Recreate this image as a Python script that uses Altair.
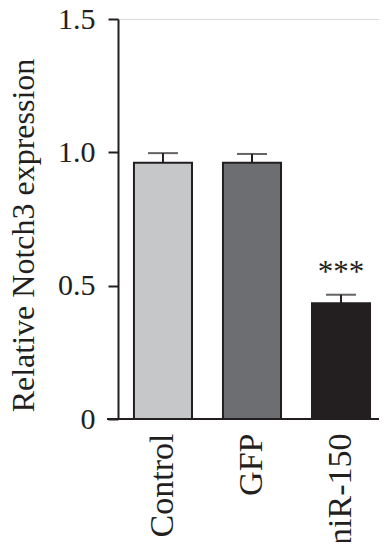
import altair as alt
import pandas as pd

groups = ["Control", "GFP", "miR-150"]
means = [0.961, 0.961, 0.434]
errors = [0.036, 0.033, 0.032]
marks = ["", "", "***"]
bar_colors = ["#c6c7c9", "#6d6e72", "#231f20"]
y_ticks = [0, 0.5, 1.0, 1.5]
y_tick_labels = ["0", "0.5", "1.0", "1.5"]

df = pd.DataFrame({
    "group": groups,
    "mean": means,
    "upper": [m + e for m, e in zip(means, errors)],
    "mark": marks,
    "star_y": [m + e + 0.08 for m, e in zip(means, errors)],
})

W, H = 261, 400
INK = "#231f20"
FONT = "Liberation Serif"

label_expr = " : ".join(
    f"datum.value == {v} ? '{l}'" for v, l in zip(y_ticks, y_tick_labels)
) + " : ''"

xscale = alt.Scale(domain=groups, paddingInner=0.348, paddingOuter=0.14, align=0.64)
yscale = alt.Scale(domain=[0, 1.5], nice=False, zero=True)

x_enc = alt.X("group:N", scale=xscale, sort=groups,
              axis=alt.Axis(title=None, labelAngle=-90, labelAlign="right",
                            labelBaseline="middle", labelFont=FONT, labelFontSize=34,
                            labelColor=INK, labelPadding=14, ticks=False,
                            domain=False))
y_enc = alt.Y("mean:Q", scale=yscale,
              axis=alt.Axis(title="Relative Notch3 expression", values=y_ticks,
                            labelExpr=label_expr, labelFont=FONT, labelFontSize=30,
                            labelColor=INK, labelPadding=13, tickSize=10,
                            tickWidth=2, tickColor=INK, domainColor=INK,
                            domainWidth=2, grid=False, titleFont=FONT,
                            titleFontSize=32, titleFontWeight="normal",
                            titleColor=INK, titleX=-85, titleY=216,
                            titleBaseline="alphabetic"))

base = alt.Chart(df)

bars = base.mark_bar(stroke=INK, strokeWidth=2).encode(
    x=x_enc,
    y=y_enc,
    color=alt.Color("group:N", scale=alt.Scale(domain=groups, range=bar_colors), legend=None),
)

err_rule = base.mark_rule(color=INK, strokeWidth=2).encode(
    x=alt.X("group:N", scale=xscale, sort=groups),
    y=alt.Y("mean:Q", scale=yscale),
    y2="upper:Q",
)

err_cap = base.mark_tick(color=INK, thickness=2, size=30, orient="horizontal").encode(
    x=alt.X("group:N", scale=xscale, sort=groups),
    y=alt.Y("upper:Q", scale=yscale),
)

stars = base.mark_text(font=FONT, fontSize=31, color=INK, baseline="middle").encode(
    x=alt.X("group:N", scale=xscale, sort=groups),
    y=alt.Y("star_y:Q", scale=yscale),
    text="mark:N",
)

xline = base.mark_rule(color=INK, strokeWidth=2).encode(
    x=alt.value(-11), x2=alt.value(W), y=alt.value(H)
).transform_filter("datum.group == 'Control'")

chart = alt.layer(bars, err_rule, err_cap, stars, xline).properties(
    width=W, height=H,
    padding={"left": 110, "top": 11, "right": 0, "bottom": 123},
    autosize=alt.AutoSizeParams(type="none"),
).configure_view(stroke=None).configure(background="white")

chart.save("out.html", embed_options={"renderer": "svg", "actions": False})
